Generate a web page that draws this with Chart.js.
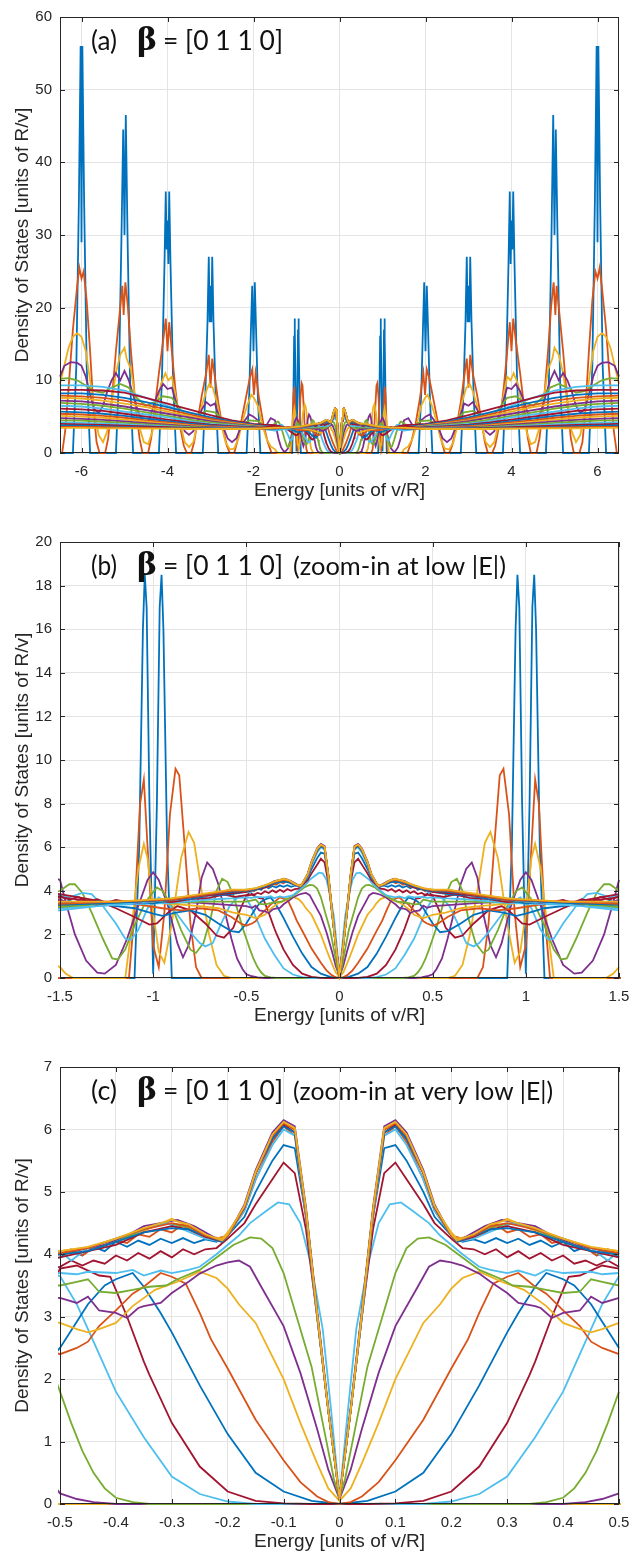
<!DOCTYPE html>
<html>
<head>
<meta charset="utf-8">
<script src="https://cdn.jsdelivr.net/npm/chart.js@4.4.1/dist/chart.umd.min.js"></script>
<style>
  body { margin: 0; background: #fff; }
  canvas { position: absolute; left: 0; }
</style>
</head>
<body>
<canvas id="dosA" width="630" height="525" style="top:0"></canvas>
<canvas id="dosB" width="630" height="525" style="top:525px"></canvas>
<canvas id="dosC" width="630" height="506" style="top:1050px"></canvas>
<script>
// DOS curves, E <= 0 half only (the figure is symmetric in E), [energy, dos]
const curve01 = [[-6.5,0],[-6.2,0],[-6.12,12],[-6.06,35],[-6.02,56],[-6.0,29],[-5.98,56],[-5.94,35],[-5.88,12],[-5.8,0],
  [-5.2,0],[-5.13,10],[-5.07,30],[-5.03,44.5],[-5.0,30],[-4.97,46.5],[-4.93,30],[-4.87,10],[-4.8,0],
  [-4.2,0],[-4.13,10],[-4.07,26],[-4.04,36],[-4.02,28],[-4.0,32],[-3.98,26],[-3.96,36],[-3.93,26],[-3.87,10],[-3.8,0],
  [-3.18,0],[-3.12,8],[-3.07,18],[-3.04,27],[-3.02,18],[-3.0,23],[-2.98,18],[-2.96,27],[-2.93,18],[-2.88,8],[-2.82,0],
  [-2.16,0],[-2.1,8],[-2.06,17],[-2.03,23],[-2.0,14],[-1.97,23.5],[-1.94,17],[-1.9,8],[-1.84,0],
  [-1.1,0],[-1.075,6],[-1.055,16],[-1.045,18.5],[-1.035,17],[-1.02,8],[-1.0,0.2],[-0.98,8],[-0.965,17],[-0.955,18.5],[-0.945,16],[-0.925,6],[-0.9,0],[0,0]];
const curve02 = [[-6.5,0],[-6.45,0],[-6.38,3],[-6.3,9],[-6.2,17],[-6.1,23],[-6.05,25.5],[-6.0,24],[-5.95,25],[-5.88,21],[-5.8,14],[-5.72,6],[-5.65,1.5],[-5.58,0],
  [-5.45,0],[-5.38,2],[-5.3,7],[-5.2,14],[-5.1,20],[-5.05,23],[-5.02,19],[-4.98,23.5],[-4.92,20],[-4.85,14],[-4.75,7],[-4.65,2],[-4.58,0],
  [-4.45,0],[-4.38,2],[-4.3,6],[-4.2,11],[-4.1,15.5],[-4.04,18.5],[-4.0,14],[-3.96,18],[-3.9,14],[-3.82,9],[-3.72,4],[-3.62,1],[-3.55,0],
  [-3.45,0],[-3.38,1.5],[-3.3,4.5],[-3.2,8],[-3.1,11],[-3.04,13.5],[-3.0,9],[-2.96,13],[-2.9,10.5],[-2.82,7],[-2.72,3.5],[-2.62,1],[-2.55,0],
  [-2.45,0],[-2.38,1.5],[-2.28,4.5],[-2.18,7.5],[-2.08,10.5],[-2.03,11.5],[-1.99,8],[-1.95,11],[-1.87,7.5],[-1.77,4],[-1.67,1.5],[-1.58,0],
  [-1.13,0],[-1.1,3],[-1.07,8],[-1.05,9.1],[-1.03,6],[-1.0,1.5],[-0.97,0.5],[-0.94,3],[-0.91,7.5],[-0.88,9.6],[-0.86,9.3],[-0.83,6],[-0.8,2.5],[-0.77,0.5],[-0.74,0],[0,0]];
const curve03 = [[-6.5,9.5],[-6.4,12],[-6.3,14.5],[-6.2,16],[-6.1,16.5],[-6.0,16],[-5.9,14],[-5.8,10],[-5.7,5.5],[-5.6,2.5],[-5.5,1.5],
  [-5.4,3],[-5.3,7],[-5.2,11],[-5.1,13.5],[-5.0,14.5],[-4.95,13],[-4.85,11.5],[-4.75,7.5],[-4.65,3.5],[-4.55,1.5],[-4.45,1.2],
  [-4.35,3],[-4.25,6.5],[-4.15,9.5],[-4.05,11],[-3.98,10],[-3.9,10.5],[-3.8,7.5],[-3.7,4],[-3.6,1.5],[-3.5,0.8],
  [-3.4,1.5],[-3.3,4],[-3.2,6.5],[-3.1,8.5],[-3.03,9.5],[-2.95,9],[-2.85,7],[-2.75,4],[-2.65,1.5],[-2.55,0.5],
  [-2.45,0.6],[-2.35,2],[-2.25,4.5],[-2.15,6.5],[-2.05,8],[-1.98,7.5],[-1.9,6.5],[-1.8,4],[-1.7,2],[-1.6,0.9],[-1.5,0.5],[-1.47,0.2],[-1.43,0],
  [-1.15,0],[-1.12,2],[-1.08,5],[-1.05,6.15],[-1.03,5.5],[-1.0,3],[-0.97,1.2],[-0.94,0.7],[-0.9,2.5],[-0.85,5.5],[-0.81,6.7],[-0.78,6.2],[-0.74,4],[-0.7,2],[-0.66,0.6],[-0.62,0.1],[-0.58,0],[0,0]];
const curve04 = [[-6.5,10.5],[-6.4,12],[-6.25,12.5],[-6.1,12.4],[-6.0,12],[-5.9,10.5],[-5.8,8],[-5.7,6],[-5.6,5.5],[-5.5,6.5],[-5.4,8.5],[-5.3,10],[-5.2,11],[-5.1,10],[-5.0,11.3],[-4.9,10],[-4.8,8],[-4.7,6],[-4.6,4.5],[-4.5,4],[-4.4,5],[-4.3,7],[-4.2,8.5],[-4.1,9.5],[-4.0,8.8],[-3.9,9],[-3.8,7],[-3.7,5],[-3.6,3],[-3.5,2.5],[-3.4,3],[-3.3,4.5],[-3.2,6],[-3.1,7],[-3.0,6.5],[-2.9,6.8],[-2.8,5],[-2.7,3.5],[-2.6,2],[-2.5,1.5],[-2.4,2],[-2.3,3.5],[-2.2,4.5],[-2.1,5.3],[-2.0,5],[-1.9,4.5],[-1.8,3.5],[-1.7,3.8],[-1.6,4.8],
  [-1.5,4.5],[-1.47,3.5],[-1.42,2],[-1.36,0.8],[-1.3,0.25],[-1.26,0.2],[-1.2,0.6],[-1.14,1.8],[-1.08,3.3],[-1.03,4.5],[-1.0,4.85],[-0.97,4.5],[-0.92,3.3],[-0.87,1.6],[-0.84,0.95],[-0.81,1.5],[-0.77,3],[-0.74,4.6],[-0.71,5.3],[-0.68,5.0],[-0.65,4.3],[-0.62,3.2],[-0.58,1.8],[-0.55,0.9],[-0.52,0.4],
  [-0.5,0.17],[-0.47,0.08],[-0.44,0.03],[-0.4,0],[0,0]];
const curve05 = [[-6.5,10.2],[-6.3,10.3],[-6.1,10.0],[-5.9,9.3],[-5.7,8.5],[-5.5,8.3],[-5.3,9.0],[-5.1,9.5],[-4.9,9.0],[-4.7,7.5],[-4.5,6.5],[-4.3,7.0],[-4.1,7.8],[-3.9,7.6],[-3.7,6.0],[-3.5,4.8],[-3.3,5.2],[-3.1,5.8],[-2.9,5.6],[-2.7,4.6],[-2.5,3.5],[-2.3,3.8],[-2.1,4.5],[-1.9,4.4],[-1.7,3.6],[-1.58,3.8],
  [-1.5,4.0],[-1.45,4.3],[-1.42,4.3],[-1.38,3.9],[-1.33,3.0],[-1.27,1.8],[-1.22,0.9],[-1.19,0.85],[-1.15,1.3],[-1.1,2.4],[-1.04,3.5],[-0.98,4.15],[-0.95,4.0],[-0.9,3.3],[-0.85,2.2],[-0.8,1.3],[-0.77,1.15],[-0.73,1.6],[-0.69,2.8],[-0.66,4.0],[-0.63,4.55],[-0.6,4.4],[-0.57,3.8],[-0.54,2.9],[-0.52,2.3],
  [-0.5,1.8],[-0.48,1.3],[-0.46,0.85],[-0.44,0.5],[-0.42,0.25],[-0.4,0.1],[-0.37,0.03],[-0.34,0],[0,0]];
const curve06 = [[-6.5,9.3],[-6.0,9.3],[-5.5,9.1],[-5.0,8.6],[-4.5,7.6],[-4.0,6.5],[-3.5,5.5],[-3.0,4.7],[-2.5,4.1],[-2.0,3.8],[-1.75,3.7],
  [-1.5,3.8],[-1.45,3.7],[-1.38,3.9],[-1.33,3.85],[-1.27,3.3],[-1.2,2.5],[-1.15,1.8],[-1.12,1.75],[-1.08,2.2],[-1.03,3.2],[-0.97,3.7],[-0.93,3.5],[-0.87,2.9],[-0.8,2.1],[-0.75,1.6],[-0.72,1.45],[-0.68,1.6],[-0.64,2.4],[-0.59,3.3],[-0.54,3.75],
  [-0.5,3.65],[-0.47,3.2],[-0.45,2.8],[-0.42,2.2],[-0.4,1.8],[-0.35,1.07],[-0.3,0.44],[-0.25,0.16],[-0.2,0.04],[-0.15,0],[0,0]];
const curve07 = [[-6.5,8.7],[-6.0,8.7],[-5.5,8.6],[-5.0,8.3],[-4.5,7.6],[-4.0,6.8],[-3.5,6.0],[-3.0,5.2],[-2.5,4.5],[-2.0,4.0],[-1.75,3.9],
  [-1.5,3.85],[-1.4,3.7],[-1.3,3.55],[-1.2,3.2],[-1.1,2.8],[-1.02,2.45],[-0.98,2.5],[-0.92,3.0],[-0.87,3.3],[-0.8,3.1],[-0.72,2.5],[-0.66,1.95],[-0.62,1.85],[-0.57,2.3],[-0.53,3.2],
  [-0.5,3.77],[-0.47,3.82],[-0.43,3.66],[-0.41,3.64],[-0.4,3.43],[-0.38,3.0],[-0.35,2.28],[-0.34,2.07],[-0.3,1.3],[-0.25,0.6],[-0.2,0.2],[-0.15,0.05],[-0.1,0.01],[-0.05,0],[0,0]];
const curve08 = [[-6.5,8.2],[-6.0,8.2],[-5.5,8.0],[-5.0,7.6],[-4.5,7.0],[-4.0,6.3],[-3.5,5.6],[-3.0,4.9],[-2.5,4.3],[-2.0,3.9],[-1.75,3.7],
  [-1.5,3.5],[-1.3,3.4],[-1.1,3.2],[-1.0,2.95],[-0.95,2.85],[-0.88,3.0],[-0.8,3.1],[-0.72,2.9],[-0.65,2.5],[-0.58,2.15],[-0.54,2.1],
  [-0.5,2.5],[-0.45,3.2],[-0.42,3.5],[-0.4,3.6],[-0.37,3.7],[-0.35,3.48],[-0.32,3.06],[-0.3,2.75],[-0.25,1.9],[-0.2,1.12],[-0.15,0.5],[-0.1,0.2],[-0.05,0.05],[0,0]];
const curve09 = [[-6.5,7.9],[-6.0,7.8],[-5.5,7.6],[-5.0,7.2],[-4.5,6.6],[-4.0,6.0],[-3.5,5.3],[-3.0,4.7],[-2.5,4.2],[-2.0,3.8],[-1.75,3.6],
  [-1.5,3.45],[-1.3,3.5],[-1.1,3.4],[-0.95,3.2],[-0.85,3.1],[-0.75,3.2],[-0.65,3.1],[-0.58,2.8],[-0.53,2.5],
  [-0.5,2.4],[-0.47,2.5],[-0.45,2.6],[-0.43,2.85],[-0.4,3.1],[-0.37,3.37],[-0.35,3.48],[-0.32,3.7],[-0.3,3.64],[-0.275,3.53],[-0.25,3.06],[-0.23,2.64],[-0.2,2.17],[-0.15,1.35],[-0.1,0.7],[-0.07,0.35],[-0.04,0.12],[-0.02,0.03],[0,0]];
const curve10 = [[-6.5,7.6],[-6.0,7.5],[-5.5,7.2],[-5.0,6.8],[-4.5,6.3],[-4.0,5.7],[-3.5,5.1],[-3.0,4.5],[-2.5,4.1],[-2.0,3.75],[-1.75,3.6],
  [-1.5,3.4],[-1.3,3.45],[-1.1,3.5],[-0.9,3.4],[-0.75,3.3],[-0.65,3.2],[-0.57,3.0],
  [-0.5,2.9],[-0.47,2.8],[-0.45,2.75],[-0.43,2.8],[-0.4,2.9],[-0.37,3.17],[-0.33,3.43],[-0.29,3.56],[-0.25,3.72],[-0.22,3.62],[-0.2,3.45],[-0.18,3.2],[-0.15,2.9],[-0.1,2.0],[-0.07,1.3],[-0.04,0.65],[-0.02,0.25],[0,0.05]];
const curve11 = [[-6.5,7.2],[-6.0,7.1],[-5.5,6.8],[-5.0,6.4],[-4.5,5.9],[-4.0,5.4],[-3.5,4.9],[-3.0,4.4],[-2.5,4.0],[-2.0,3.7],[-1.75,3.55],
  [-1.5,3.35],[-1.3,3.4],[-1.1,3.45],[-0.9,3.5],[-0.75,3.45],[-0.6,3.35],
  [-0.5,3.3],[-0.47,3.22],[-0.45,3.32],[-0.43,3.1],[-0.4,3.06],[-0.38,2.98],[-0.36,3.14],[-0.35,3.17],[-0.32,3.22],[-0.3,3.38],[-0.27,3.56],[-0.25,3.69],[-0.22,3.82],[-0.2,3.87],[-0.18,3.9],[-0.16,3.8],[-0.14,3.48],[-0.1,2.85],[-0.07,2.1],[-0.04,1.2],[-0.02,0.55],[0,0.08]];
const curve12 = [[-6.5,6.9],[-6.0,6.75],[-5.5,6.5],[-5.0,6.1],[-4.5,5.6],[-4.0,5.1],[-3.5,4.6],[-3.0,4.2],[-2.5,3.9],[-2.0,3.65],[-1.75,3.5],
  [-1.5,3.3],[-1.2,3.4],[-0.9,3.45],[-0.7,3.5],[-0.58,3.5],
  [-0.5,3.5],[-0.47,3.56],[-0.45,3.6],[-0.43,3.4],[-0.4,3.38],[-0.37,3.43],[-0.34,3.48],[-0.31,3.5],[-0.29,3.6],[-0.25,3.75],[-0.22,3.95],[-0.19,4.15],[-0.16,4.27],[-0.14,4.25],[-0.12,4.1],[-0.1,3.7],[-0.08,3.1],[-0.05,2.2],[-0.03,1.3],[-0.01,0.4],[0,0.1]];
const curve13 = [[-6.5,6.5],[-6.0,6.4],[-5.5,6.1],[-5.0,5.7],[-4.5,5.3],[-4.0,4.9],[-3.5,4.4],[-3.0,4.0],[-2.5,3.8],[-2.0,3.6],[-1.75,3.45],
  [-1.5,3.2],[-1.2,3.35],[-0.9,3.45],[-0.7,3.6],[-0.58,3.65],
  [-0.5,3.7],[-0.47,3.68],[-0.45,3.72],[-0.4,3.7],[-0.37,3.75],[-0.35,3.66],[-0.32,3.74],[-0.3,3.7],[-0.27,3.75],[-0.25,3.8],[-0.22,4.0],[-0.18,4.3],[-0.16,4.5],[-0.13,4.7],[-0.11,4.83],[-0.09,4.8],[-0.07,4.5],[-0.05,3.8],[-0.03,2.8],[-0.015,1.5],[0,0.1]];
const curve14 = [[-6.5,6.1],[-6.0,6.0],[-5.5,5.8],[-5.0,5.4],[-4.5,5.0],[-4.0,4.6],[-3.5,4.2],[-3.0,3.9],[-2.5,3.7],[-2.0,3.55],[-1.75,3.45],
  [-1.5,3.75],[-1.45,3.6],[-1.4,3.72],[-1.35,3.5],[-1.3,3.62],[-1.25,3.45],[-1.2,3.58],[-1.1,3.42],[-1.0,3.55],[-0.9,3.48],[-0.8,3.62],[-0.7,3.68],[-0.62,3.82],[-0.56,3.72],
  [-0.5,3.8],[-0.48,3.9],[-0.46,3.82],[-0.44,3.9],[-0.42,3.85],[-0.4,3.98],[-0.38,3.9],[-0.36,4.02],[-0.34,3.93],[-0.32,4.05],[-0.3,3.95],[-0.28,4.08],[-0.26,4.0],[-0.24,4.08],[-0.22,4.1],[-0.2,4.25],[-0.17,4.5],[-0.15,4.8],[-0.12,5.2],[-0.1,5.47],[-0.08,5.3],[-0.06,4.4],[-0.04,3.0],[-0.02,1.5],[0,0.1]];
const curve15 = [[-6.5,5.7],[-6.0,5.6],[-5.5,5.4],[-5.0,5.1],[-4.5,4.75],[-4.0,4.4],[-3.5,4.05],[-3.0,3.8],[-2.5,3.6],[-2.0,3.5],[-1.75,3.4],
  [-1.5,3.4],[-1.45,3.55],[-1.4,3.38],[-1.3,3.52],[-1.2,3.4],[-1.1,3.5],[-1.0,3.42],[-0.9,3.58],[-0.8,3.62],[-0.7,3.78],[-0.6,3.82],
  [-0.5,3.95],[-0.48,4.05],[-0.46,3.98],[-0.44,4.12],[-0.42,4.05],[-0.4,4.2],[-0.38,4.12],[-0.36,4.22],[-0.34,4.15],[-0.32,4.25],[-0.3,4.18],[-0.28,4.26],[-0.26,4.18],[-0.24,4.24],[-0.22,4.2],[-0.2,4.3],[-0.17,4.6],[-0.15,5.0],[-0.12,5.5],[-0.1,5.75],[-0.08,5.7],[-0.06,4.6],[-0.04,3.0],[-0.02,1.5],[0,0.1]];
const curve16 = [[-6.5,5.4],[-6.0,5.3],[-5.5,5.1],[-5.0,4.85],[-4.5,4.5],[-4.0,4.2],[-3.5,3.9],[-3.0,3.7],[-2.5,3.55],[-2.0,3.45],[-1.75,3.4],
  [-1.5,3.55],[-1.45,3.4],[-1.4,3.52],[-1.3,3.38],[-1.2,3.5],[-1.1,3.45],[-1.0,3.58],[-0.9,3.55],[-0.8,3.72],[-0.7,3.8],[-0.6,3.95],
  [-0.5,4.0],[-0.48,4.08],[-0.46,3.98],[-0.44,4.1],[-0.42,4.15],[-0.4,4.22],[-0.38,4.18],[-0.36,4.32],[-0.34,4.28],[-0.32,4.4],[-0.3,4.35],[-0.28,4.48],[-0.26,4.35],[-0.24,4.3],[-0.22,4.25],[-0.2,4.3],[-0.17,4.7],[-0.15,5.2],[-0.12,5.8],[-0.1,6.05],[-0.08,5.9],[-0.06,4.6],[-0.04,3.0],[-0.02,1.5],[0,0.1]];
const curve17 = [[-6.5,5.1],[-6.0,5.0],[-5.5,4.85],[-5.0,4.6],[-4.5,4.3],[-4.0,4.05],[-3.5,3.8],[-3.0,3.6],[-2.5,3.5],[-2.0,3.4],[-1.75,3.35],
  [-1.5,3.3],[-1.45,3.45],[-1.4,3.35],[-1.3,3.48],[-1.2,3.42],[-1.1,3.55],[-1.0,3.5],[-0.9,3.62],[-0.8,3.7],[-0.7,3.88],[-0.6,3.98],
  [-0.5,4.05],[-0.46,4.1],[-0.42,4.15],[-0.37,4.3],[-0.33,4.45],[-0.3,4.57],[-0.27,4.45],[-0.24,4.3],[-0.21,4.25],[-0.2,4.35],[-0.17,4.75],[-0.15,5.3],[-0.12,5.9],[-0.1,6.12],[-0.08,6.0],[-0.06,4.7],[-0.04,3.05],[-0.02,1.5],[0,0.1]];
const curve18 = [[-6.5,4.8],[-6.0,4.7],[-5.5,4.55],[-5.0,4.35],[-4.5,4.1],[-4.0,3.9],[-3.5,3.7],[-3.0,3.55],[-2.5,3.45],[-2.0,3.4],[-1.75,3.35],
  [-1.5,3.6],[-1.45,3.42],[-1.4,3.55],[-1.3,3.35],[-1.2,3.5],[-1.1,3.42],[-1.0,3.55],[-0.9,3.62],[-0.8,3.75],[-0.7,3.85],[-0.6,4.02],
  [-0.5,4.0],[-0.45,4.1],[-0.42,4.15],[-0.38,4.3],[-0.35,4.45],[-0.32,4.5],[-0.29,4.55],[-0.26,4.45],[-0.23,4.3],[-0.21,4.2],[-0.2,4.3],[-0.17,4.8],[-0.15,5.35],[-0.12,5.95],[-0.1,6.15],[-0.08,6.05],[-0.06,4.75],[-0.04,3.1],[-0.02,1.55],[0,0.1]];
const curve19 = [[-6.5,4.5],[-6.0,4.45],[-5.5,4.3],[-5.0,4.15],[-4.5,3.95],[-4.0,3.75],[-3.5,3.6],[-3.0,3.5],[-2.5,3.4],[-2.0,3.35],[-1.75,3.3],
  [-1.5,3.25],[-1.3,3.4],[-1.1,3.5],[-0.9,3.65],[-0.7,3.85],[-0.58,3.95],
  [-0.5,4.0],[-0.45,4.05],[-0.4,4.2],[-0.35,4.4],[-0.31,4.5],[-0.28,4.45],[-0.24,4.3],[-0.21,4.2],[-0.2,4.3],[-0.17,4.75],[-0.15,5.3],[-0.12,5.9],[-0.1,6.1],[-0.08,6.0],[-0.06,4.7],[-0.04,3.05],[-0.02,1.5],[0,0.1]];
const curve20 = [[-6.5,4.2],[-6.0,4.15],[-5.5,4.05],[-5.0,3.95],[-4.5,3.8],[-4.0,3.65],[-3.5,3.5],[-3.0,3.45],[-2.5,3.4],[-2.0,3.35],[-1.75,3.3],
  [-1.5,3.1],[-1.3,3.3],[-1.1,3.45],[-0.9,3.6],[-0.7,3.8],[-0.58,4.0],
  [-0.5,4.05],[-0.48,3.9],[-0.45,4.1],[-0.4,4.25],[-0.35,4.4],[-0.31,4.5],[-0.28,4.4],[-0.24,4.25],[-0.21,4.2],[-0.2,4.3],[-0.17,4.7],[-0.15,5.2],[-0.12,5.75],[-0.1,6.0],[-0.08,5.9],[-0.06,4.65],[-0.04,3.0],[-0.02,1.5],[0,0.1]];
const curve21 = [[-6.5,4.0],[-6.0,3.95],[-5.5,3.85],[-5.0,3.75],[-4.5,3.65],[-4.0,3.55],[-3.5,3.45],[-3.0,3.4],[-2.5,3.35],[-2.0,3.3],
  [-1.5,3.7],[-1.3,3.5],[-1.1,3.5],[-0.9,3.6],[-0.7,3.8],[-0.58,3.9],
  [-0.5,3.95],[-0.45,4.05],[-0.4,4.15],[-0.35,4.35],[-0.3,4.45],[-0.27,4.4],[-0.24,4.28],[-0.21,4.2],[-0.2,4.3],[-0.17,4.75],[-0.15,5.3],[-0.12,5.85],[-0.1,6.08],[-0.08,5.95],[-0.06,4.7],[-0.04,3.05],[-0.02,1.5],[0,0.1]];
const curve22 = [[-6.5,3.8],[-6.0,3.75],[-5.5,3.7],[-5.0,3.6],[-4.5,3.5],[-4.0,3.45],[-3.5,3.4],[-3.0,3.35],[-2.5,3.3],[-2.0,3.3],
  [-1.5,3.35],[-1.2,3.45],[-0.9,3.6],[-0.7,3.85],[-0.58,3.95],
  [-0.5,4.0],[-0.45,4.05],[-0.4,4.2],[-0.35,4.35],[-0.3,4.42],[-0.27,4.4],[-0.24,4.3],[-0.21,4.2],[-0.2,4.3],[-0.17,4.75],[-0.15,5.3],[-0.12,5.85],[-0.1,6.05],[-0.08,5.95],[-0.06,4.7],[-0.04,3.05],[-0.02,1.5],[0,0.1]];
const curve23 = [[-6.5,3.6],[-6.0,3.6],[-5.5,3.55],[-5.0,3.5],[-4.5,3.45],[-4.0,3.4],[-3.5,3.35],[-3.0,3.3],[-2.5,3.3],[-2.0,3.3],
  [-1.5,3.4],[-1.2,3.5],[-0.9,3.6],[-0.7,3.85],[-0.58,4.0],
  [-0.5,4.02],[-0.45,4.1],[-0.4,4.25],[-0.35,4.4],[-0.3,4.5],[-0.27,4.45],[-0.24,4.3],[-0.21,4.22],[-0.2,4.3],[-0.17,4.75],[-0.15,5.3],[-0.12,5.9],[-0.1,6.1],[-0.08,6.0],[-0.06,4.7],[-0.04,3.05],[-0.02,1.5],[0,0.1]];
const curve24 = [[-6.5,3.45],[-6.0,3.45],[-5.5,3.4],[-5.0,3.4],[-4.5,3.35],[-4.0,3.35],[-3.5,3.3],[-3.0,3.3],[-2.5,3.3],[-2.0,3.3],
  [-1.5,3.5],[-1.2,3.5],[-0.9,3.65],[-0.7,3.9],[-0.58,4.05],
  [-0.5,4.05],[-0.45,4.12],[-0.4,4.25],[-0.35,4.42],[-0.3,4.55],[-0.27,4.48],[-0.24,4.32],[-0.21,4.22],[-0.2,4.32],[-0.17,4.78],[-0.15,5.32],[-0.12,5.92],[-0.1,6.12],[-0.08,6.02],[-0.06,4.72],[-0.04,3.05],[-0.02,1.5],[0,0.1]];

const curves = [curve01, curve02, curve03, curve04, curve05, curve06, curve07, curve08,
  curve09, curve10, curve11, curve12, curve13, curve14, curve15, curve16,
  curve17, curve18, curve19, curve20, curve21, curve22, curve23, curve24];

// tick values per panel
const xTicksA = [-6, -4, -2, 0, 2, 4, 6];
const yTicksA = [0, 10, 20, 30, 40, 50, 60];
const xTicksB = [-1.5, -1, -0.5, 0, 0.5, 1, 1.5];
const yTicksB = [0, 2, 4, 6, 8, 10, 12, 14, 16, 18, 20];
const xTicksC = [-0.5, -0.4, -0.3, -0.2, -0.1, 0, 0.1, 0.2, 0.3, 0.4, 0.5];
const yTicksC = [0, 1, 2, 3, 4, 5, 6, 7];

const palette = ['#0072BD', '#D95319', '#EDB120', '#7E2F8E', '#77AC30', '#4DBEEE', '#A2142F'];
const axisColor = '#262626';
const tickFont = { family: '"Liberation Sans", Arial, sans-serif', size: 15 };

// full curve from the E<=0 half
function mirror(half) {
  const pts = half.map(p => ({ x: p[0], y: p[1] }));
  for (let i = half.length - 1; i >= 0; i--) {
    if (half[i][0] === 0) continue;
    pts.push({ x: -half[i][0], y: half[i][1] });
  }
  return pts;
}

function fitText(ctx, text, x, y, font, width) {
  ctx.font = font;
  const w = ctx.measureText(text).width;
  ctx.save();
  ctx.translate(x, y);
  ctx.scale(width / w, 1);
  ctx.fillText(text, 0, 0);
  ctx.restore();
}

const frame = {
  id: 'frame',
  afterDatasetsDraw(chart, args, opts) {
    const { ctx, chartArea: a, scales: { x, y } } = chart;
    ctx.save();
    ctx.strokeStyle = axisColor;
    ctx.lineWidth = 1;
    ctx.strokeRect(a.left + 0.5, a.top + 0.5, a.right - a.left - 1, a.bottom - a.top - 1);
    ctx.beginPath();
    x.ticks.forEach(t => {
      const px = Math.round(x.getPixelForValue(t.value)) + 0.5;
      ctx.moveTo(px, a.bottom); ctx.lineTo(px, a.bottom - 5);
      ctx.moveTo(px, a.top); ctx.lineTo(px, a.top + 5);
    });
    y.ticks.forEach(t => {
      const py = Math.round(y.getPixelForValue(t.value)) + 0.5;
      ctx.moveTo(a.left, py); ctx.lineTo(a.left + 5, py);
      ctx.moveTo(a.right, py); ctx.lineTo(a.right - 5, py);
    });
    ctx.stroke();

    // panel label
    const base = a.top + 33;
    ctx.fillStyle = '#111';
    ctx.textBaseline = 'alphabetic';
    ctx.textAlign = 'left';
    fitText(ctx, opts.tag, a.left + 31, base, '27px Lato, "Open Sans", sans-serif', 26);
    fitText(ctx, '\u03B2', a.left + 77, base, 'bold 31px "DejaVu Serif", serif', 20);
    fitText(ctx, '= [0 1 1 0]', a.left + 103, base, '27px Lato, "Open Sans", sans-serif', 120);
    if (opts.note) fitText(ctx, opts.note, a.left + 233, base, '25px Lato, "Open Sans", sans-serif', opts.noteWidth);

    // axis titles
    ctx.fillStyle = axisColor;
    ctx.textAlign = 'center';
    ctx.textBaseline = 'middle';
    ctx.font = '19px "Liberation Sans", Arial, sans-serif';
    ctx.fillText('Energy [units of v/R]', (a.left + a.right) / 2, a.bottom + 38);
    ctx.save();
    ctx.translate(23, (a.top + a.bottom) / 2);
    ctx.rotate(-Math.PI / 2);
    ctx.fillText('Density of States [units of R/v]', 0, 0);
    ctx.restore();
    ctx.restore();
  }
};

function makeChart(id, p) {
  const datasets = curves.map((half, i) => ({
    data: mirror(half),
    borderColor: palette[i % palette.length],
    borderWidth: 1.8,
    pointRadius: 0,
    tension: 0,
    fill: false,
    clip: 2,
    order: -i
  }));
  return new Chart(document.getElementById(id), {
    type: 'line',
    data: { datasets },
    plugins: [frame],
    options: {
      responsive: false,
      animation: false,
      events: [],
      layout: { padding: { top: p.top, right: 11, left: 0, bottom: 0 } },
      plugins: {
        legend: { display: false },
        tooltip: { enabled: false },
        frame: { tag: p.tag, note: p.note, noteWidth: p.noteWidth }
      },
      scales: {
        x: {
          type: 'linear',
          min: p.xMin, max: p.xMax,
          afterBuildTicks: s => { s.ticks = p.xTicks.map(v => ({ value: v })); },
          afterFit: s => { s.height = p.axisH; s.paddingLeft = 0; s.paddingRight = 0; },
          grid: { color: '#e4e4e4', drawTicks: false },
          border: { display: false },
          ticks: { font: tickFont, color: axisColor, padding: 10, maxRotation: 0,
                   callback: v => String(+v.toFixed(2)) }
        },
        y: {
          type: 'linear',
          min: 0, max: p.yMax,
          afterBuildTicks: s => { s.ticks = p.yTicks.map(v => ({ value: v })); },
          afterFit: s => { s.width = 60; },
          grid: { color: '#e4e4e4', drawTicks: false },
          border: { display: false },
          ticks: { font: tickFont, color: axisColor, padding: 8,
                   callback: v => String(+v.toFixed(2)) }
        }
      }
    }
  });
}

makeChart('dosA', { tag: '(a)', note: '', xMin: -6.5, xMax: 6.5, xTicks: xTicksA, yTicks: yTicksA, yMax: 60, top: 12, axisH: 72 });
makeChart('dosB', { tag: '(b)', note: '(zoom-in at low |E|)', noteWidth: 213, xMin: -1.5, xMax: 1.5, xTicks: xTicksB, yTicks: yTicksB, yMax: 20, top: 12, axisH: 72 });
makeChart('dosC', { tag: '(c)', note: '(zoom-in at very low |E|)', noteWidth: 260, xMin: -0.5, xMax: 0.5, xTicks: xTicksC, yTicks: yTicksC, yMax: 7, top: 13, axisH: 52 });
</script>
</body>
</html>
